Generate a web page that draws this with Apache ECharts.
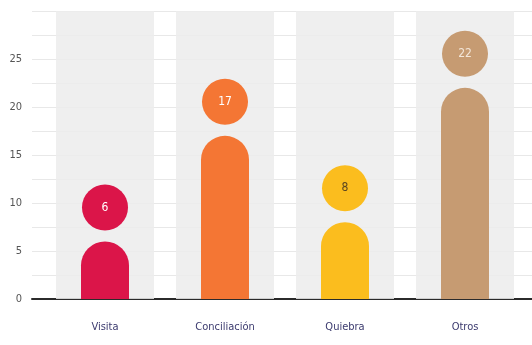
<!DOCTYPE html>
<html><head><meta charset="utf-8">
<script src="https://cdn.jsdelivr.net/npm/echarts@6/dist/echarts.min.js"></script>
<style>html,body{margin:0;padding:0;background:#fff}#c{width:532px;height:345px}</style>
</head><body><div id="c"></div>
<script>
const categories = ['Visita', 'Conciliación', 'Quiebra', 'Otros'];
const values = [6, 17, 8, 22];
const colors = ['#db1549', '#f47634', '#fbbd1e', '#c69b72'];
const labelColors = ['#ffffff', '#ffffff', '#5a4520', '#f3e6d8'];
const yTicks = [0, 5, 10, 15, 20, 25];
const yMax = 30;
const bgValues = categories.map(() => yMax);

const narrow = '"DejaVu Sans Condensed", "Liberation Sans Narrow", sans-serif';
const chart = echarts.init(document.getElementById('c'), null, {renderer: 'canvas'});
chart.setOption({
  animation: false,
  grid: [
    {left: 32, right: 0, top: 11, bottom: 46},
    {left: 45, right: 7, top: 11, bottom: 46}
  ],
  xAxis: [
    {gridIndex: 0, type: 'value', min: 0, max: 1, axisLabel: {show: false}, axisTick: {show: false}, splitLine: {show: false},
     axisLine: {show: true, lineStyle: {color: '#2b2b2b', width: 2}}},
    {gridIndex: 1, type: 'category', data: categories, axisLine: {show: false}, axisTick: {show: false},
     axisLabel: {margin: 23, color: '#3b3a6e', fontFamily: narrow, fontSize: 11}},
    {gridIndex: 1, type: 'category', data: categories, show: false}
  ],
  yAxis: [
    {gridIndex: 0, type: 'value', min: 0, max: yMax, interval: 2.5,
     axisLine: {show: false}, axisTick: {show: false},
     axisLabel: {margin: 10, color: '#555', fontFamily: narrow, fontSize: 11,
       formatter: v => yTicks.includes(v) ? String(v) : ''},
     splitLine: {show: true, lineStyle: {color: '#e8e8e8', width: 1}}},
    {gridIndex: 1, type: 'value', min: 0, max: yMax, show: false, splitLine: {show: false}}
  ],
  series: [
    {type: 'bar', xAxisIndex: 2, yAxisIndex: 1, data: bgValues, barWidth: 98,
     itemStyle: {color: 'rgba(236,236,236,0.85)'}, silent: true, z: 1},
    {type: 'bar', xAxisIndex: 1, yAxisIndex: 1, barWidth: 48, z: 3,
     data: values.map((v, i) => ({value: v, itemStyle: {color: colors[i], borderRadius: [24, 24, 0, 0]}}))},
    {type: 'scatter', xAxisIndex: 1, yAxisIndex: 1, symbol: 'circle', symbolSize: 46, symbolOffset: [0, -34], z: 4,
     data: values.map((v, i) => ({value: v, itemStyle: {color: colors[i], opacity: 1},
       label: {show: true, position: 'inside', formatter: String(v), color: labelColors[i],
         fontFamily: narrow, fontSize: 12}}))}
  ]
});
</script></body></html>
